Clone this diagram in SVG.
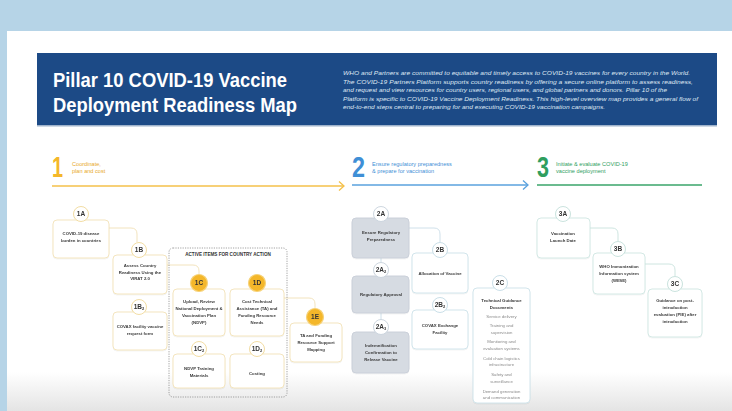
<svg xmlns="http://www.w3.org/2000/svg" width="732" height="411" viewBox="0 0 732 411">
<defs>
<linearGradient id="btm" x1="0" y1="0" x2="0" y2="1">
<stop offset="0" stop-color="#ffffff"/>
<stop offset="1" stop-color="#e4e4e4"/>
</linearGradient>
<filter id="sh" x="-10%" y="-10%" width="120%" height="130%">
<feDropShadow dx="0" dy="0.6" stdDeviation="0.6" flood-color="#000" flood-opacity="0.08"/>
</filter>
</defs>
<style>
text{font-family:"Liberation Sans",Arial,sans-serif}
.nt{font-size:4.3px;fill:#3a3a3a;font-weight:bold;text-anchor:middle}
.lt{font-size:4.3px;fill:#8a8a8a;text-anchor:middle}
.bt{font-size:6.5px;font-weight:bold;fill:#333;text-anchor:middle}
.sub{font-size:4px}
.y{fill:#fff;stroke:#f3e2b8;stroke-width:0.9}
.yb{fill:#fff;stroke:#f0d99a;stroke-width:0.9}
.yf{fill:#f4b72a;stroke:#f7d37a;stroke-width:1.2}
.g{fill:#d6dbe2;stroke:#c8ced8;stroke-width:0.9}
.gb{fill:#fff;stroke:#c8d2dc;stroke-width:0.9}
.b{fill:#fff;stroke:#cde2ea;stroke-width:0.9}
.bb{fill:#fff;stroke:#c4dbe5;stroke-width:0.9}
.t{fill:#fff;stroke:#cfe6e2;stroke-width:0.9}
.tb{fill:#fff;stroke:#c4e0da;stroke-width:0.9}
.cy{fill:none;stroke:#f1e0b5;stroke-width:0.9}
.cb{fill:none;stroke:#c9dde8;stroke-width:0.9}
.ct{fill:none;stroke:#c8e2dc;stroke-width:0.9}
.sec{font-size:5.6px}
.par{font-size:5.4px;font-style:italic;fill:#dfe7f2}
</style>

<!-- background -->
<rect x="0" y="0" width="732" height="411" fill="#b6d4e7"/>
<rect x="7" y="31" width="725" height="380" fill="#ffffff"/>
<rect x="7" y="372" width="725" height="39" fill="url(#btm)"/>

<!-- header -->
<g id="header">
<rect x="37" y="53" width="680" height="73" fill="#1c4a86"/>
<rect x="37" y="125" width="680" height="1.5" fill="#9fb3cc"/>
<text x="53" y="87" font-size="20" font-weight="bold" fill="#ffffff" textLength="234" lengthAdjust="spacingAndGlyphs">Pillar 10 COVID-19 Vaccine</text>
<text x="53" y="112" font-size="20" font-weight="bold" fill="#ffffff" textLength="244" lengthAdjust="spacingAndGlyphs">Deployment Readiness Map</text>
<text class="par" x="343" y="75" textLength="347" lengthAdjust="spacingAndGlyphs">WHO and Partners are committed to equitable and timely access to COVID-19 vaccines for every country in the World.</text>
<text class="par" x="343" y="83.5" textLength="350" lengthAdjust="spacingAndGlyphs">The COVID-19 Partners Platform supports country readiness by offering a secure online platform to assess readiness,</text>
<text class="par" x="343" y="92" textLength="324" lengthAdjust="spacingAndGlyphs">and request and view resources for country users, regional users, and global partners and donors. Pillar 10 of the</text>
<text class="par" x="343" y="100.5" textLength="355" lengthAdjust="spacingAndGlyphs">Platform is specific to COVID-19 Vaccine Deployment Readiness. This high-level overview map provides a general flow of</text>
<text class="par" x="343" y="109" textLength="262" lengthAdjust="spacingAndGlyphs">end-to-end steps central to preparing for and executing COVID-19 vaccination campaigns.</text>
</g>

<!-- section headers -->
<g id="section1">
<text x="52" y="177" font-size="29" font-weight="bold" fill="#f4b72a" textLength="11" lengthAdjust="spacingAndGlyphs">1</text>
<text class="sec" x="72" y="166" fill="#e8a92a">Coordinate,</text>
<text class="sec" x="72" y="173" fill="#e8a92a">plan and cost</text>
<line x1="52" y1="186" x2="344" y2="186" stroke="#f4c04a" stroke-width="1.3"/>
<polyline points="339,181.5 344,186 339,190.5" fill="none" stroke="#f4c04a" stroke-width="1.3"/>
</g>
<g id="section2">
<text x="352" y="177" font-size="29" font-weight="bold" fill="#3f8fd6" textLength="13" lengthAdjust="spacingAndGlyphs">2</text>
<text class="sec" x="372" y="166" fill="#3f8fd6">Ensure regulatory preparedness</text>
<text class="sec" x="372" y="173" fill="#3f8fd6">&amp; prepare for vaccination</text>
<line x1="352" y1="185" x2="528" y2="185" stroke="#5aa2de" stroke-width="1.3"/>
<polyline points="523,180.5 528,185 523,189.5" fill="none" stroke="#5aa2de" stroke-width="1.3"/>
</g>
<g id="section3">
<text x="537" y="177" font-size="29" font-weight="bold" fill="#2f9e5e" textLength="12" lengthAdjust="spacingAndGlyphs">3</text>
<text class="sec" x="556" y="166" fill="#2f9e5e">Initiate &amp; evaluate COVID-19</text>
<text class="sec" x="556" y="173" fill="#2f9e5e">vaccine deployment</text>
<line x1="537" y1="185" x2="702" y2="185" stroke="#3aa56a" stroke-width="1.3"/>
</g>

<!-- connectors -->
<g id="connectors">
<path class="cy" d="M109,228 H131 Q137,228 137,234 V242"/>
<path class="cy" d="M167,265 H193 Q199,265 199,271 V275"/>
<path class="cy" d="M284,298 H309 Q315,298 315,304 V309"/>
<path class="cb" d="M409,228 H434 Q440,228 440,234 V242"/>
<path class="cb" d="M381,258 V263"/>
<path class="cb" d="M381,313 V320"/>
<path class="ct" d="M590,228 H612 Q618,228 618,234 V241"/>
<path class="ct" d="M645,264 H669 Q675,264 675,270 V276"/>
</g>

<!-- active items dashed box -->
<g id="active-items">
<rect x="169" y="248" width="118" height="149" rx="4" fill="none" stroke="#8a8a8a" stroke-width="0.8" stroke-dasharray="1.2,1.2"/>
<text x="228" y="256" font-size="4.6" font-weight="bold" fill="#333" text-anchor="middle">ACTIVE ITEMS FOR COUNTRY ACTION</text>
</g>

<!-- column 1 -->
<g id="n1A" filter="url(#sh)">
<rect class="y" x="53" y="220" width="56" height="38" rx="4"/>
<circle class="yb" cx="81" cy="214" r="7.5"/>
<text class="bt" x="81" y="216.3">1A</text>
<text class="nt" x="81" y="235">COVID-19 disease</text>
<text class="nt" x="81" y="242">burden in countries</text>
</g>
<g id="n1B" filter="url(#sh)">
<rect class="y" x="113" y="255" width="54" height="39" rx="4"/>
<circle class="yb" cx="139" cy="250" r="7.5"/>
<text class="bt" x="139" y="252.3">1B</text>
<text class="nt" x="140" y="267">Assess Country</text>
<text class="nt" x="140" y="273.5">Readiness Using the</text>
<text class="nt" x="140" y="280">VIRAT 2.0</text>
</g>
<g id="n1B2" filter="url(#sh)">
<rect class="y" x="113" y="312" width="54" height="38" rx="4"/>
<circle class="yb" cx="139" cy="307" r="7.5"/>
<text class="bt" x="139" y="309.3">1B<tspan class="sub" dy="1">2</tspan></text>
<text class="nt" x="140" y="328">COVAX facility vaccine</text>
<text class="nt" x="140" y="335">request form</text>
</g>
<g id="n1C" filter="url(#sh)">
<rect class="y" x="173" y="289" width="52" height="47" rx="4"/>
<circle class="yf" cx="199" cy="283" r="8.5"/>
<text class="bt" x="199" y="285.3">1C</text>
<text class="nt" x="199" y="303">Upload, Review</text>
<text class="nt" x="199" y="310">National Deployment &amp;</text>
<text class="nt" x="199" y="317">Vaccination Plan</text>
<text class="nt" x="199" y="324">(NDVP)</text>
</g>
<g id="n1D" filter="url(#sh)">
<rect class="y" x="230" y="289" width="54" height="47" rx="4"/>
<circle class="yf" cx="257" cy="283" r="8.5"/>
<text class="bt" x="257" y="285.3">1D</text>
<text class="nt" x="257" y="303">Cost Technical</text>
<text class="nt" x="257" y="310">Assistance (TA) and</text>
<text class="nt" x="257" y="317">Funding Resource</text>
<text class="nt" x="257" y="324">Needs</text>
</g>
<g id="n1C2" filter="url(#sh)">
<rect class="y" x="173" y="354" width="52" height="34" rx="4"/>
<circle class="yb" cx="199" cy="349" r="7.5"/>
<text class="bt" x="199" y="351.3">1C<tspan class="sub" dy="1">2</tspan></text>
<text class="nt" x="199" y="370">NDVP Training</text>
<text class="nt" x="199" y="377">Materials</text>
</g>
<g id="n1D2" filter="url(#sh)">
<rect class="y" x="230" y="354" width="54" height="34" rx="4"/>
<circle class="yb" cx="257" cy="349" r="7.5"/>
<text class="bt" x="257" y="351.3">1D<tspan class="sub" dy="1">2</tspan></text>
<text class="nt" x="257" y="375">Costing</text>
</g>
<g id="n1E" filter="url(#sh)">
<rect class="y" x="290" y="323" width="52" height="39" rx="4"/>
<circle class="yf" cx="315" cy="317" r="8.5"/>
<text class="bt" x="315" y="319.3">1E</text>
<text class="nt" x="316" y="337">TA and Funding</text>
<text class="nt" x="316" y="344">Resource Support</text>
<text class="nt" x="316" y="351">Mapping</text>
</g>

<!-- column 2 -->
<g id="n2A" filter="url(#sh)">
<rect class="g" x="352" y="218" width="57" height="40" rx="4"/>
<circle class="gb" cx="381" cy="214" r="7.5"/>
<text class="bt" x="381" y="216.3">2A</text>
<text class="nt" x="381" y="234">Ensure Regulatory</text>
<text class="nt" x="381" y="241">Preparedness</text>
</g>
<g id="n2A2" filter="url(#sh)">
<rect class="g" x="352" y="276" width="57" height="37" rx="4"/>
<circle class="gb" cx="381" cy="270" r="7.5"/>
<text class="bt" x="381" y="272.3">2A<tspan class="sub" dy="1">2</tspan></text>
<text class="nt" x="381" y="296">Regulatory Approval</text>
</g>
<g id="n2A3" filter="url(#sh)">
<rect class="g" x="352" y="332" width="57" height="41" rx="4"/>
<circle class="gb" cx="381" cy="327" r="7.5"/>
<text class="bt" x="381" y="329.3">2A<tspan class="sub" dy="1">3</tspan></text>
<text class="nt" x="381" y="347">Indemnification</text>
<text class="nt" x="381" y="354">Confirmation to</text>
<text class="nt" x="381" y="361">Release Vaccine</text>
</g>
<g id="n2B" filter="url(#sh)">
<rect class="b" x="412" y="253" width="56" height="40" rx="4"/>
<circle class="bb" cx="440" cy="250" r="7.5"/>
<text class="bt" x="440" y="252.3">2B</text>
<text class="nt" x="440" y="275">Allocation of Vaccine</text>
</g>
<g id="n2B2" filter="url(#sh)">
<rect class="b" x="412" y="310" width="56" height="39" rx="4"/>
<circle class="bb" cx="440" cy="305" r="7.5"/>
<text class="bt" x="440" y="307.3">2B<tspan class="sub" dy="1">2</tspan></text>
<text class="nt" x="440" y="327">COVAX Exchange</text>
<text class="nt" x="440" y="334">Facility</text>
</g>
<g id="n2C" filter="url(#sh)">
<rect class="b" x="473" y="288" width="57" height="115" rx="4"/>
<circle class="bb" cx="500" cy="283" r="7.5"/>
<text class="bt" x="500" y="285.3">2C</text>
<text class="nt" x="501.5" y="302">Technical Guidance</text>
<text class="nt" x="501.5" y="309">Documents</text>
<text class="lt" x="501.5" y="318">Service delivery</text>
<text class="lt" x="501.5" y="327">Training and</text>
<text class="lt" x="501.5" y="333.5">supervision</text>
<text class="lt" x="501.5" y="343">Monitoring and</text>
<text class="lt" x="501.5" y="349.5">evaluation systems</text>
<text class="lt" x="501.5" y="359.5">Cold chain logistics</text>
<text class="lt" x="501.5" y="366">infrastructure</text>
<text class="lt" x="501.5" y="376">Safety and</text>
<text class="lt" x="501.5" y="382.5">surveillance</text>
<text class="lt" x="501.5" y="392.5">Demand generation</text>
<text class="lt" x="501.5" y="399">and communication</text>
</g>

<!-- column 3 -->
<g id="n3A" filter="url(#sh)">
<rect class="t" x="537" y="218" width="53" height="40" rx="4"/>
<circle class="tb" cx="563" cy="214" r="7.5"/>
<text class="bt" x="563" y="216.3">3A</text>
<text class="nt" x="563" y="235">Vaccination</text>
<text class="nt" x="563" y="242">Launch Date</text>
</g>
<g id="n3B" filter="url(#sh)">
<rect class="t" x="593" y="253" width="52" height="41" rx="4"/>
<circle class="tb" cx="618" cy="249" r="7.5"/>
<text class="bt" x="618" y="251.3">3B</text>
<text class="nt" x="619" y="268">WHO Immunization</text>
<text class="nt" x="619" y="275">Information system</text>
<text class="nt" x="619" y="282">(WIISE)</text>
</g>
<g id="n3C" filter="url(#sh)">
<rect class="t" x="648" y="289" width="54" height="48" rx="4"/>
<circle class="tb" cx="675" cy="284" r="7.5"/>
<text class="bt" x="675" y="286.3">3C</text>
<text class="nt" x="675" y="302">Guidance on post-</text>
<text class="nt" x="675" y="309">introduction</text>
<text class="nt" x="675" y="316">evaluation (PIE) after</text>
<text class="nt" x="675" y="323">introduction</text>
</g>
</svg>
